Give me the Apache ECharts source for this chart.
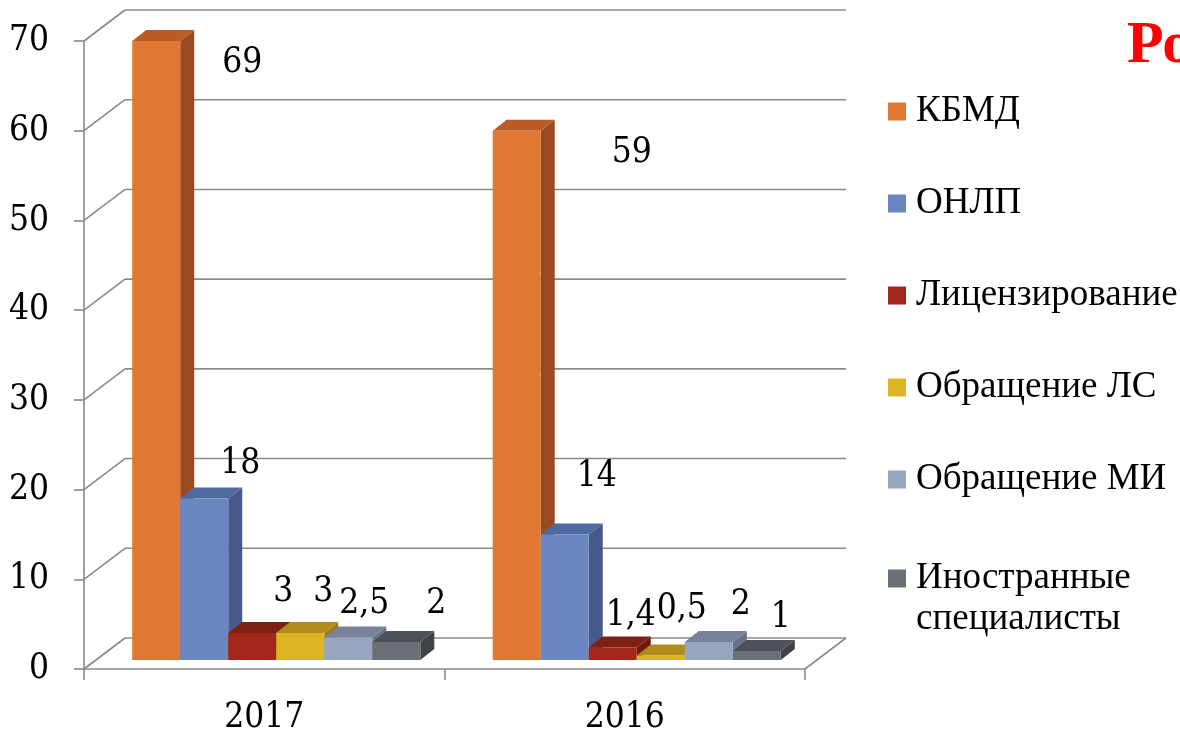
<!DOCTYPE html>
<html>
<head>
<meta charset="utf-8">
<script src="https://cdn.jsdelivr.net/npm/echarts@6/dist/echarts.min.js"></script>
<style>
  html, body { margin: 0; padding: 0; background: #ffffff; }
  #chart { width: 1180px; height: 734px; }
</style>
</head>
<body>
<div id="chart"></div>
<script>
// ---- data ----
const categories = ['2017', '2016'];
const seriesNames = ['КБМД', 'ОНЛП', 'Лицензирование', 'Обращение ЛС', 'Обращение МИ', 'Иностранные специалисты'];
const kbmd = [69, 59];
const onlp = [18, 14];
const licensing = [3, 1.4];
const drugs = [3, 0.5];
const devices = [2.5, 2];
const foreign = [2, 1];
const yTicks = [0, 10, 20, 30, 40, 50, 60, 70];
const titleText = 'Ро';

// ---- styling / geometry (not data) ----
const seriesValues = [kbmd, onlp, licensing, drugs, devices, foreign];
const palette = [
  { front: '#E07834', side: '#9A4A1E', top: '#B95C26' },
  { front: '#6A87C2', side: '#46598A', top: '#4F69A1' },
  { front: '#A2261A', side: '#6E1A10', top: '#7E2013' },
  { front: '#DCB424', side: '#9C7C14', top: '#B08C1B' },
  { front: '#97A5BF', side: '#6A7489', top: '#78839B' },
  { front: '#6B6F76', side: '#3F4247', top: '#4E5158' }
];
const WALL = { dx: 41, dy: -31 };   // back wall offset
const PLANE = { dx: 12, dy: -9 };   // bar front plane offset
const DEPTH = { dx: 14, dy: -11 };  // bar depth
const BAR_FRAC = 0.1332;
const labelNudge = [
  [[86, 22], [115, 22]],
  [[36, -35], [32, -57]],
  [[31, -41], [18, -32]],
  [[23, -41], [21, -47]],
  [[16, -34], [32, -37]],
  [[40, -38], [24, -33]]
];
const SERIF = "'DejaVu Serif Condensed', 'DejaVu Serif', serif";
const TIMES = "'Liberation Serif', serif";
const LINE = '#8A8A8A';

function fmt(v) { return String(v).replace('.', ','); }

function wallRender(params, api) {
  const cs = params.coordSys;
  const v = api.value(0);
  const y = api.coord([0, v])[1];
  const left = cs.x, right = cs.x + cs.width;
  const st = { stroke: LINE, lineWidth: 1.6, fill: null };
  const children = [
    { type: 'line', shape: { x1: left, y1: y, x2: left + WALL.dx, y2: y + WALL.dy }, style: st },
    { type: 'line', shape: { x1: left + WALL.dx, y1: y + WALL.dy, x2: right + WALL.dx, y2: y + WALL.dy }, style: st }
  ];
  if (v === 0) {
    children.push({ type: 'line', shape: { x1: right, y1: y, x2: right + WALL.dx, y2: y + WALL.dy }, style: st });
  }
  return { type: 'group', children: children };
}

function makeBarRender(si) {
  return function (params, api) {
    const ci = api.value(0), v = api.value(1);
    const base = api.coord([ci, 0]);
    const topP = api.coord([ci, v]);
    const band = api.size([1, 0])[0];
    const w = band * BAR_FRAC;
    const n = seriesValues.length;
    const x0 = base[0] - w * n / 2 + si * w + PLANE.dx;
    const x1 = x0 + w;
    const yb = base[1] + PLANE.dy;
    const yt = topP[1] + PLANE.dy;
    const c = palette[si];
    const nud = labelNudge[si][ci];
    return {
      type: 'group',
      children: [
        { type: 'polygon', shape: { points: [[x1, yb], [x1, yt], [x1 + DEPTH.dx, yt + DEPTH.dy], [x1 + DEPTH.dx, yb + DEPTH.dy]] }, style: { fill: c.side } },
        { type: 'polygon', shape: { points: [[x0, yt], [x1, yt], [x1 + DEPTH.dx, yt + DEPTH.dy], [x0 + DEPTH.dx, yt + DEPTH.dy]] }, style: { fill: c.top } },
        { type: 'rect', shape: { x: x0, y: yt, width: w, height: yb - yt }, style: { fill: c.front } },
        { type: 'text', z2: 100, style: { x: (x0 + x1) / 2 + nud[0], y: yt + nud[1], text: fmt(v), fill: '#000', font: '35px ' + SERIF, align: 'center', verticalAlign: 'middle' } }
      ]
    };
  };
}

const series = [{
  type: 'custom',
  name: '__walls',
  renderItem: wallRender,
  data: yTicks.map(t => [t]),
  encode: { y: 0 },
  clip: false,
  silent: true,
  z: 1
}];
seriesNames.forEach((name, si) => {
  series.push({
    type: 'custom',
    name: name,
    renderItem: makeBarRender(si),
    data: categories.map((c, ci) => [ci, seriesValues[si][ci]]),
    encode: { x: 0, y: 1 },
    itemStyle: { color: palette[si].front },
    clip: false,
    z: 2 + si
  });
});

const legendText = { color: '#000', fontFamily: TIMES, fontSize: 37, lineHeight: 41, padding: [0, 0, 0, 5] };
const lastName = seriesNames[seriesNames.length - 1];

const chart = echarts.init(document.getElementById('chart'), null, { renderer: 'canvas' });
chart.setOption({
  animation: false,
  backgroundColor: '#ffffff',
  title: {
    text: titleText,
    left: 1127,
    top: 16,
    padding: 0,
    textStyle: { color: '#FF0000', fontFamily: TIMES, fontWeight: 'bold', fontSize: 60 }
  },
  grid: { left: 84, top: 41, width: 721, height: 628, containLabel: false, outerBoundsMode: 'none' },
  xAxis: {
    type: 'category',
    data: categories,
    boundaryGap: true,
    axisLine: { show: true, lineStyle: { color: LINE, width: 1.6 } },
    axisTick: { show: true, length: 11, lineStyle: { color: LINE, width: 1.6 } },
    axisLabel: { color: '#000', fontFamily: SERIF, fontSize: 35, margin: 31 },
    splitLine: { show: false }
  },
  yAxis: {
    type: 'value',
    min: 0,
    max: 70,
    interval: 10,
    axisLine: { show: true, lineStyle: { color: LINE, width: 1.6 } },
    axisTick: { show: true, length: 10, lineStyle: { color: LINE, width: 1.6 } },
    axisLabel: { color: '#000', fontFamily: SERIF, fontSize: 35, margin: 35 },
    splitLine: { show: false }
  },
  legend: [{
    orient: 'vertical',
    left: 888,
    top: 91,
    padding: 0,
    itemWidth: 18,
    itemHeight: 18,
    itemGap: 51,
    icon: 'rect',
    data: seriesNames.slice(0, seriesNames.length - 1),
    textStyle: legendText
  }, {
    orient: 'vertical',
    left: 888,
    top: 517,
    padding: 0,
    itemWidth: 18,
    itemHeight: 18,
    icon: 'rect',
    data: [lastName],
    formatter: function (name) { return '\n' + name.replace(' ', '\n'); },
    textStyle: legendText
  }],
  series: series
});
</script>
</body>
</html>
